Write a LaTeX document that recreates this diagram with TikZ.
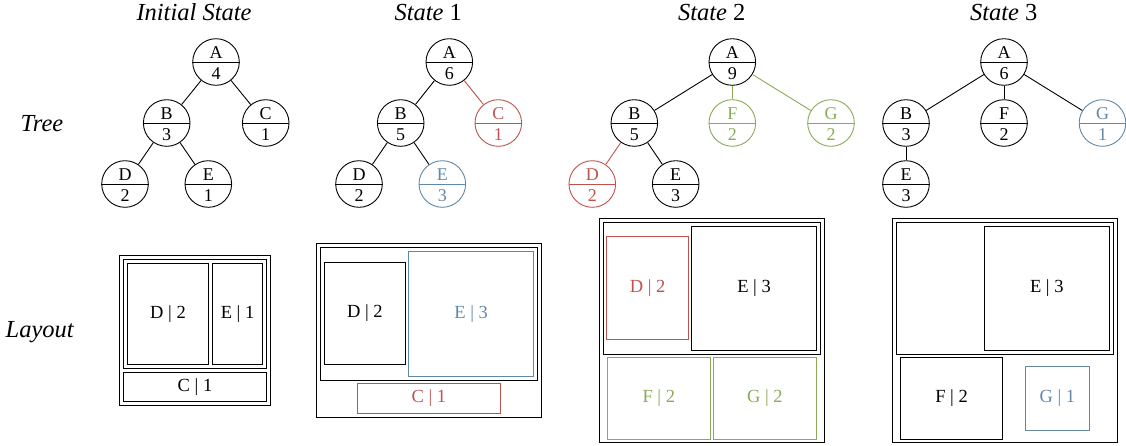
\documentclass[tikz,border=0pt]{standalone}
\usepackage{fontspec}
\setmainfont{Liberation Serif}
\definecolor{cred}{RGB}{192,82,78}
\definecolor{cgreen}{RGB}{138,170,86}
\definecolor{cblue}{RGB}{98,136,168}
\tikzset{
  tn/.style={circle, draw, minimum size=46.6pt, inner sep=0pt, line width=0.9pt},
  lbox/.style={draw, rectangle, inner sep=0pt, line width=1pt, font=\fontsize{18.5}{21}\selectfont},
  edge/.style={line width=0.9pt},
  ttl/.style={font=\fontsize{24.5}{28}\selectfont, anchor=base, inner sep=0pt},
  ntext/.style={font=\fontsize{18}{20}\selectfont, inner sep=0pt, anchor=base},
}
% name, x, y, letter, number, colour
\newcommand\tnode[6]{%
  \node[tn, draw=#6] (#1) at (#2,#3) {};
  \draw[line width=0.9pt, #6] (#1.west) -- (#1.east);
  \node[ntext, text=#6] (#1-l) at ([yshift=4pt]#1.center) {#4};
  \node[ntext, text=#6] (#1-n) at ([yshift=-17pt]#1.center) {#5};
}
% name, x1, y1, x2, y2, colour, text
\newcommand\lbx[7]{%
  \node[lbox, draw=#6, text=#6, minimum width={(#4-#2)*1pt}, minimum height={(#5-#3)*1pt}]
    (#1) at ({(#2+#4)/2},{(#3+#5)/2}) {#7};
}
\begin{document}
\begin{tikzpicture}[x=1pt, y=-1pt]
\useasboundingbox (0,0) rectangle (1126,445);

% titles
\node[ttl] (t0) at (194,20.7) {\textit{Initial State}};
\node[ttl] (t1) at (428.3,20.7) {\textit{State} 1};
\node[ttl] (t2) at (711.7,20.7) {\textit{State} 2};
\node[ttl] (t3) at (1003.7,20.7) {\textit{State} 3};
\node[ttl] (rt) at (42,131) {\textit{Tree}};
\node[ttl] (rl) at (40,337) {\textit{Layout}};

% ---- Initial tree
\tnode{iA}{216}{62}{A}{4}{black}
\tnode{iB}{166.7}{123}{B}{3}{black}
\tnode{iC}{265.7}{123}{C}{1}{black}
\tnode{iD}{125}{184}{D}{2}{black}
\tnode{iE}{208.3}{184}{E}{1}{black}
\draw[edge] (iA) -- (iB);
\draw[edge] (iA) -- (iC);
\draw[edge] (iB) -- (iD);
\draw[edge] (iB) -- (iE);

% ---- State 1 tree
\tnode{aA}{449.3}{62}{A}{6}{black}
\tnode{aB}{400.7}{123}{B}{5}{black}
\tnode{aC}{498.3}{123}{C}{1}{cred}
\tnode{aD}{359}{184}{D}{2}{black}
\tnode{aE}{442.3}{184}{E}{3}{cblue}
\draw[edge] (aA) -- (aB);
\draw[edge, cred] (aA) -- (aC);
\draw[edge] (aB) -- (aD);
\draw[edge] (aB) -- (aE);

% ---- State 2 tree
\tnode{bA}{732.3}{62}{A}{9}{black}
\tnode{bB}{634.3}{123}{B}{5}{black}
\tnode{bF}{732.3}{123}{F}{2}{cgreen}
\tnode{bG}{831}{123}{G}{2}{cgreen}
\tnode{bD}{592.3}{184}{D}{2}{cred}
\tnode{bE}{675.7}{184}{E}{3}{black}
\draw[edge] (bA) -- (bB);
\draw[edge, cgreen] (bA) -- (bF);
\draw[edge, cgreen] (bA) -- (bG);
\draw[edge, cred] (bB) -- (bD);
\draw[edge] (bB) -- (bE);

% ---- State 3 tree
\tnode{cA}{1004}{62}{A}{6}{black}
\tnode{cB}{906}{123}{B}{3}{black}
\tnode{cF}{1004}{123}{F}{2}{black}
\tnode{cG}{1102.5}{123}{G}{1}{cblue}
\tnode{cE}{906}{184}{E}{3}{black}
\draw[edge] (cA) -- (cB);
\draw[edge] (cA) -- (cF);
\draw[edge] (cA) -- (cG);
\draw[edge] (cB) -- (cE);

% ---- Initial layout
\lbx{iLR}{119.5}{255}{270.5}{405.5}{black}{}
\lbx{iLB}{123.5}{259}{266.5}{368.5}{black}{}
\lbx{iLD}{127.5}{263}{208.5}{364.5}{black}{D | 2}
\lbx{iLE}{212.5}{263}{262.5}{364.5}{black}{E | 1}
\lbx{iLC}{123.5}{372.5}{266.5}{401.5}{black}{C | 1}

% ---- State 1 layout
\lbx{aLR}{316.3}{243.3}{541.7}{417.3}{black}{}
\lbx{aLB}{320.3}{247.3}{537.7}{380}{black}{}
\lbx{aLD}{324.3}{262.3}{405.3}{364.7}{black}{D | 2}
\lbx{aLE}{408.7}{251.3}{533.7}{376}{cblue}{E | 3}
\lbx{aLC}{357}{383.3}{500.7}{413.7}{cred}{C | 1}

% ---- State 2 layout
\lbx{bLR}{599.3}{218}{824.3}{442.3}{black}{}
\lbx{bLB}{603.3}{222}{820.3}{354}{black}{}
\lbx{bLD}{606.7}{236.7}{688.7}{339}{cred}{D | 2}
\lbx{bLE}{691.7}{226}{816.3}{350}{black}{E | 3}
\lbx{bLF}{607.3}{357.7}{710.3}{439.3}{cgreen}{F | 2}
\lbx{bLG}{713.3}{357.7}{816.3}{439.3}{cgreen}{G | 2}

% ---- State 3 layout
\lbx{cLR}{892.3}{218}{1117.3}{442.7}{black}{}
\lbx{cLB}{896.3}{222}{1113.3}{354}{black}{}
\lbx{cLE}{984.3}{226}{1109.3}{350}{black}{E | 3}
\lbx{cLF}{900.3}{357.7}{1002.7}{439.3}{black}{F | 2}
\lbx{cLG}{1025}{366.3}{1089.7}{430.7}{cblue}{G | 1}
\end{tikzpicture}
\end{document}
